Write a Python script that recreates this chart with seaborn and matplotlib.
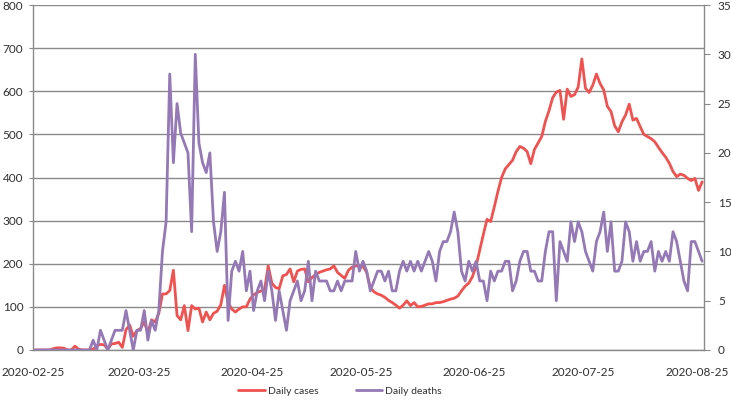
import pandas as pd
import numpy as np
import matplotlib.pyplot as plt
import matplotlib.dates as mdates
import seaborn as sns

# daily values, 2020-02-25 .. 2020-08-26
daily_cases = [
    0, 0, 0, 0, 0, 3, 5, 5, 4, 0,
    0, 9, 2, 0, 0, 0, 2, 10, 13, 12,
    2, 14, 15, 18, 6, 47, 58, 32, 45, 50,
    65, 40, 70, 65, 85, 130, 130, 138, 185, 80,
    70, 103, 45, 103, 95, 97, 65, 88, 70, 85,
    90, 105, 150, 110, 95, 88, 95, 100, 100, 118,
    128, 133, 137, 140, 195, 155, 145, 142, 172, 175,
    188, 158, 183, 187, 188, 158, 168, 175, 180, 183,
    186, 188, 195, 180, 173, 166, 185, 192, 195, 195,
    194, 180, 145, 135, 130, 127, 122, 115, 110, 104,
    97, 104, 114, 103, 110, 100, 101, 104, 107, 107,
    110, 110, 112, 115, 118, 120, 125, 137, 148, 155,
    170, 195, 232, 268, 303, 298, 332, 368, 400, 420,
    430, 440, 460, 472, 468, 460, 432, 465, 480, 495,
    530, 555, 585, 598, 602, 535, 605, 588, 592, 610,
    675, 607, 597, 614, 640, 618, 603, 565, 553, 520,
    506, 529, 545, 570, 533, 537, 518, 500, 495, 490,
    483, 470, 458, 447, 433, 414, 402, 408, 405, 398,
    393, 398, 370, 390,
]

daily_deaths = [
    0, 0, 0, 0, 0, 0, 0, 0, 0, 0,
    0, 0, 0, 0, 0, 0, 1, 0, 2, 1,
    0, 1, 2, 2, 2, 4, 2, 0, 2, 2,
    4, 1, 3, 2, 4, 10, 13, 28, 19, 25,
    22, 21, 20, 12, 30, 21, 19, 18, 20, 13,
    10, 12, 16, 3, 8, 9, 8, 10, 6, 8,
    4, 6, 7, 5, 8, 6, 3, 6, 4, 2,
    5, 6, 7, 5, 6, 9, 5, 8, 7, 7,
    7, 6, 6, 7, 6, 7, 7, 7, 10, 8,
    9, 8, 6, 7, 8, 8, 7, 8, 6, 6,
    8, 9, 8, 9, 8, 9, 8, 9, 10, 9,
    7, 10, 11, 11, 12, 14, 12, 8, 7, 9,
    8, 9, 7, 7, 5, 8, 7, 8, 8, 9,
    9, 6, 7, 9, 10, 10, 8, 8, 7, 7,
    10, 12, 12, 5, 11, 10, 9, 13, 11, 13,
    12, 10, 9, 8, 11, 12, 14, 10, 13, 8,
    8, 9, 13, 12, 9, 11, 9, 10, 10, 11,
    8, 10, 9, 10, 9, 12, 11, 9, 7, 6,
    11, 11, 10, 9,
]

tick_dates = ['2020-02-25', '2020-03-25', '2020-04-25', '2020-05-25',
              '2020-06-25', '2020-07-25', '2020-08-25']
cases_ticks = [0, 100, 200, 300, 400, 500, 600, 700, 800]
deaths_ticks = [0, 5, 10, 15, 20, 25, 30, 35]

# excel puts each day in the middle of its slot
dates = pd.date_range('2020-02-25', periods=len(daily_cases)) + pd.Timedelta(hours=12)
df = pd.DataFrame({'Date': dates, 'Daily cases': daily_cases, 'Daily deaths': daily_deaths})

sns.set_style('white')
plt.rcParams['font.family'] = ['Lato', 'DejaVu Sans']

red = '#EF524F'
purple = '#9479B6'
grid_col = '#8A8A8A'
text_col = '#303030'

fig = plt.figure(figsize=(7.31, 4.01), dpi=100)
ax = fig.add_axes([33 / 731, 1 - 350 / 401, (704 - 33) / 731, (350 - 5) / 401])
ax2 = ax.twinx()

sns.lineplot(data=df, x='Date', y='Daily cases', ax=ax, color=red, linewidth=2.0, legend=False)
sns.lineplot(data=df, x='Date', y='Daily deaths', ax=ax2, color=purple, linewidth=2.0, legend=False)

ax.set_xlim(pd.Timestamp('2020-02-25'), pd.Timestamp('2020-08-27'))
ax.set_ylim(0, 800)
ax2.set_ylim(0, 35)
ax.set_yticks(cases_ticks)
ax2.set_yticks(deaths_ticks)
ax.set_xticks(pd.to_datetime(tick_dates))
ax.xaxis.set_major_formatter(mdates.DateFormatter('%Y-%m-%d'))

ax.set_xlabel('')
ax.set_ylabel('')
ax2.set_ylabel('')
ax.grid(axis='y', color=grid_col, linewidth=1.0)
ax.grid(axis='x', visible=False)
ax2.grid(False)

for a in (ax, ax2):
    a.spines['top'].set_visible(False)
    for s in ('left', 'right', 'bottom'):
        a.spines[s].set_color(grid_col)
        a.spines[s].set_linewidth(1.0)
ax.spines['right'].set_visible(False)
ax2.spines['left'].set_visible(False)
ax2.spines['bottom'].set_visible(False)

ax.tick_params(axis='x', length=4, color=grid_col, labelsize=8.5, pad=8, labelcolor=text_col)
ax.tick_params(axis='y', length=3, color=grid_col, labelsize=8.5, pad=4, labelcolor=text_col)
ax2.tick_params(axis='y', length=4, color=grid_col, labelsize=8.5, pad=6, labelcolor=text_col)

handles = ax.get_lines()[:1] + ax2.get_lines()[:1]
fig.legend(handles, ['Daily cases', 'Daily deaths'], loc='center', bbox_to_anchor=(340 / 731, 1 - 391 / 401),
           ncol=2, frameon=False, fontsize=7.5, handlelength=2.5, handletextpad=0.3, columnspacing=3.6,
           labelcolor=text_col)

plt.savefig('out.png', dpi=100)
